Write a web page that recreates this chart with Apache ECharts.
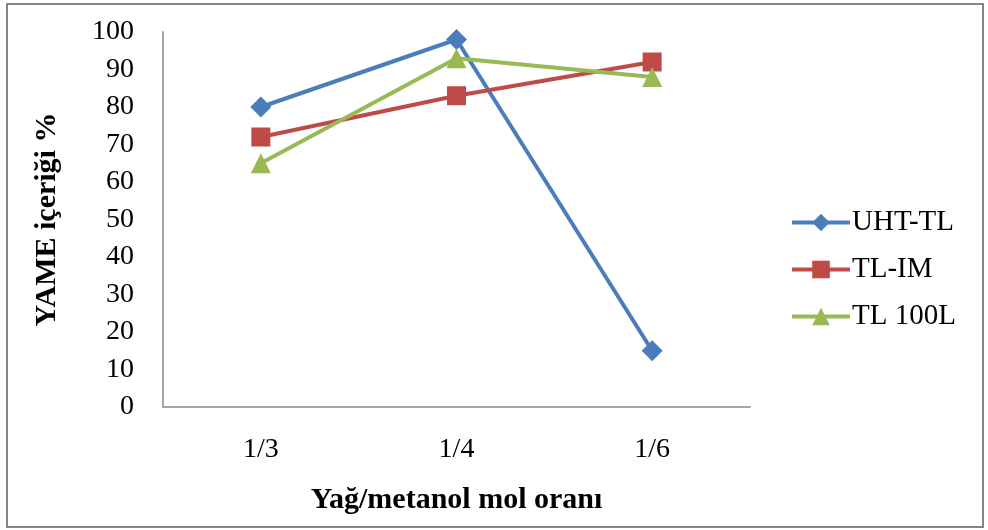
<!DOCTYPE html>
<html><head><meta charset="utf-8">
<script src="https://cdn.jsdelivr.net/npm/echarts@6/dist/echarts.min.js"></script>
<style>html,body{margin:0;padding:0;background:#fff}#c{width:988px;height:530px}</style>
</head><body><div id="c"></div>
<script>
const categories = ['1/3', '1/4', '1/6'];
const uhtTL = [80, 98, 15];
const tlIM = [72, 83, 92];
const tl100L = [65, 93, 88];
const seriesNames = ['UHT-TL', 'TL-IM', 'TL 100L'];
const yTicks = { min: 0, max: 100, interval: 10 };

const font = 'Liberation Serif, Times New Roman, serif';
const chart = echarts.init(document.getElementById('c'));
function mk(name, data, color, symbol, size) {
  return {
    name, type: 'line', data, symbol, symbolSize: size,
    lineStyle: { color, width: 4 }, itemStyle: { color },
    z: 3
  };
}
chart.setOption({
  animation: false,
  graphic: [{ type: 'rect', shape: { x: 7, y: 4, width: 976, height: 523 },
    style: { fill: 'none', stroke: '#868686', lineWidth: 2 } }],
  grid: { left: 163, right: 238, top: 32, bottom: 123 },
  legend: {
    orient: 'vertical', left: 790, top: 208, padding: 0,
    itemWidth: 58, itemHeight: 22, itemGap: 18,
    lineStyle: { width: 4 },
    textStyle: { fontFamily: font, fontSize: 29, color: '#000', padding: [0, 0, 0, -3] },
    data: seriesNames
  },
  xAxis: {
    type: 'category', data: categories, boundaryGap: true,
    axisLine: { lineStyle: { color: '#a6a6a6', width: 2 } },
    axisTick: { show: false },
    axisLabel: { fontFamily: font, fontSize: 28, color: '#000', margin: 29 },
    name: 'Yağ/metanol mol oranı', nameLocation: 'middle', nameGap: 78,
    nameTextStyle: { fontFamily: font, fontSize: 30, fontWeight: 'bold', color: '#000' }
  },
  yAxis: {
    type: 'value', min: yTicks.min, max: yTicks.max, interval: yTicks.interval,
    splitLine: { show: false },
    axisLine: { show: true, lineStyle: { color: '#a6a6a6', width: 2 } },
    axisTick: { show: false },
    axisLabel: { fontFamily: font, fontSize: 28, color: '#000', margin: 29 },
    name: 'YAME içeriği %', nameLocation: 'middle', nameGap: 101, nameRotate: 90,
    nameTextStyle: { fontFamily: font, fontSize: 30, fontWeight: 'bold', color: '#000' }
  },
  series: [
    mk(seriesNames[0], uhtTL, '#4a7ebb', 'diamond', 21),
    mk(seriesNames[1], tlIM, '#be4b48', 'rect', 19),
    mk(seriesNames[2], tl100L, '#98b954', 'triangle', 20)
  ]
});
</script></body></html>
